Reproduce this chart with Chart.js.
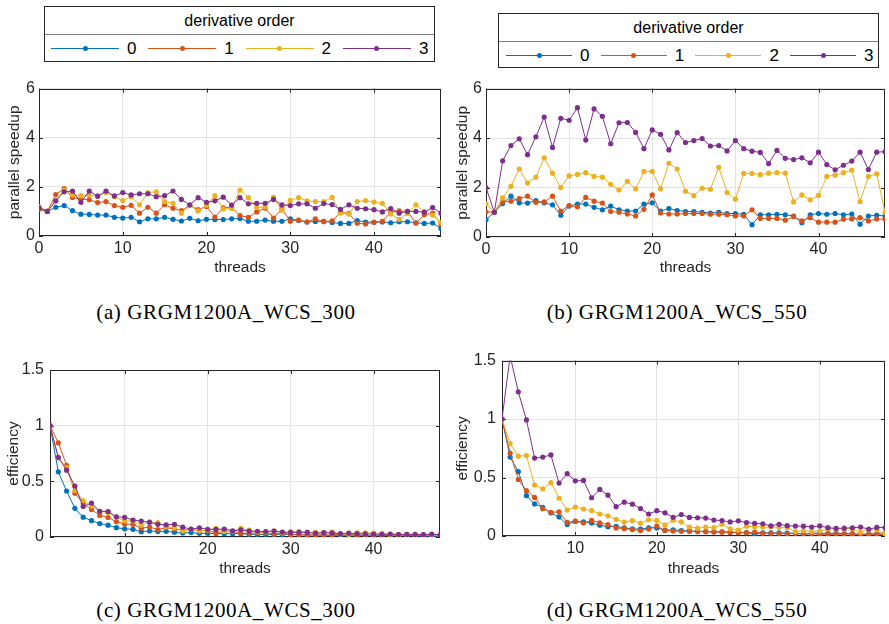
<!DOCTYPE html>
<html>
<head>
<meta charset="utf-8">
<script src="https://cdn.jsdelivr.net/npm/chart.js@4.4.1/dist/chart.umd.min.js"></script>
<style>
  body { margin: 0; background: #fff; width: 889px; height: 624px; position: relative; overflow: hidden; }
  canvas { position: absolute; }
  .legend { position: absolute; border: 1px solid #262626; box-sizing: border-box; background: #fff;
            font-family: "Liberation Sans", Arial, sans-serif; color: #000; }
  .legend .ttl { height: 27px; line-height: 27px; text-align: center; font-size: 16px; border-bottom: 1px solid #808080; }
  .legend .row { position: relative; height: 27px; }
  .legend .item { position: absolute; top: 0; height: 27px; }
  .legend .ln { position: absolute; top: 13px; height: 0; border-top: 1px solid; }
  .legend .dot { position: absolute; top: 11px; width: 5px; height: 5px; border-radius: 50%; }
  .legend .lab { position: absolute; top: 0; line-height: 27px; font-size: 17px; }
  .cap { position: absolute; font-family: "Liberation Serif", "Times New Roman", serif; font-size: 21px;
         letter-spacing: 0.6px; white-space: nowrap; transform: translate(-50%, -50%); color: #000; }
</style>
</head>
<body>

<div class="legend" id="legA" style="left:44px;top:6px;width:391px;height:56px"></div>
<div class="legend" id="legB" style="left:498px;top:13px;width:381px;height:55px"></div>

<canvas id="cA" width="450" height="205" style="left:0;top:75px"></canvas>
<canvas id="cB" width="444" height="205" style="left:445px;top:75px"></canvas>
<canvas id="cC" width="450" height="235" style="left:0;top:345px"></canvas>
<canvas id="cD" width="444" height="235" style="left:445px;top:345px"></canvas>

<div class="cap" style="left:226px;top:312px">(a) GRGM1200A_WCS_300</div>
<div class="cap" style="left:677px;top:312px">(b) GRGM1200A_WCS_550</div>
<div class="cap" style="left:226px;top:610px">(c) GRGM1200A_WCS_300</div>
<div class="cap" style="left:677px;top:610px">(d) GRGM1200A_WCS_550</div>

<script>
// thread counts
const threads = [0, 1, 2, 3, 4, 5, 6, 7, 8, 9, 10, 11, 12, 13, 14, 15, 16, 17, 18, 19, 20, 21, 22, 23, 24,
                 25, 26, 27, 28, 29, 30, 31, 32, 33, 34, 35, 36, 37, 38, 39, 40, 41, 42, 43, 44, 45, 46, 47, 48];
const threadsEff = threads.slice(1);

const orders = ['0', '1', '2', '3'];
const colors = ['#0072BD', '#D95319', '#EDB120', '#7E2F8E'];

const xTicksSpeedup = [0, 10, 20, 30, 40];
const xTicksEff = [10, 20, 30, 40];
const yTicksSpeedup = [0, 2, 4, 6];
const yTicksEff = [0, 0.5, 1, 1.5];

// parallel speedup, WCS_300 (threads 0..48)
const speed300_0 = [1.1, 1.0, 1.17, 1.24, 1.03, 0.89, 0.88, 0.85, 0.85, 0.76, 0.73, 0.76, 0.58, 0.7, 0.7, 0.76, 0.68,
  0.61, 0.72, 0.62, 0.68, 0.67, 0.67, 0.7, 0.71, 0.6, 0.6, 0.65, 0.6, 0.6, 0.7, 0.63, 0.57, 0.59, 0.6, 0.55, 0.51,
  0.51, 0.63, 0.57, 0.56, 0.57, 0.54, 0.58, 0.58, 0.54, 0.51, 0.53, 0.31];
const speed300_1 = [1.1, 1.0, 1.69, 1.93, 1.57, 1.5, 1.48, 1.36, 1.4, 1.24, 1.17, 1.25, 0.93, 1.17, 0.93, 1.27, 1.13,
  1.03, 1.25, 1.07, 1.2, 0.77, 1.15, 1.17, 0.83, 0.76, 0.98, 1.13, 0.73, 1.1, 0.6, 0.65, 0.57, 0.7, 0.58, 0.62, 0.96,
  0.92, 0.52, 0.49, 0.56, 0.6, 0.97, 1.02, 1.0, 0.53, 0.86, 0.93, 0.47];
const speed300_2 = [1.2, 1.0, 1.42, 1.87, 1.67, 1.64, 1.67, 1.62, 1.77, 1.6, 1.44, 1.6, 1.27, 1.77, 1.8, 1.4, 1.33,
  0.93, 1.25, 1.02, 1.25, 1.64, 1.1, 1.12, 1.87, 1.56, 1.16, 1.18, 1.57, 1.05, 1.45, 1.56, 1.43, 1.4, 1.4, 1.57, 0.93,
  0.89, 1.4, 1.44, 1.38, 1.33, 0.9, 0.68, 0.92, 1.27, 0.98, 0.85, 0.55];
const speed300_3 = [1.15, 1.0, 1.43, 1.8, 1.83, 1.37, 1.83, 1.62, 1.83, 1.63, 1.77, 1.67, 1.72, 1.72, 1.6, 1.64, 1.83,
  1.49, 1.27, 1.56, 1.37, 1.43, 1.58, 1.26, 1.56, 1.31, 1.33, 1.33, 1.49, 1.27, 1.24, 1.31, 1.31, 1.13, 1.32, 1.28,
  1.08, 1.27, 1.13, 1.11, 1.07, 0.98, 1.12, 0.93, 1.0, 1.0, 0.97, 1.16, 0.93];

// parallel speedup, WCS_550 (threads 0..48)
const speed550_0 = [0.7, 1.0, 1.35, 1.65, 1.38, 1.37, 1.47, 1.38, 1.3, 0.88, 1.25, 1.33, 1.33, 1.2, 1.1, 1.25, 1.1,
  1.05, 1.05, 1.33, 1.38, 1.05, 1.15, 1.07, 1.03, 1.03, 1.0, 0.97, 1.0, 0.95, 0.95, 0.92, 0.5, 0.9, 0.9, 0.92, 0.9,
  0.85, 0.58, 0.9, 0.95, 0.92, 0.95, 0.9, 0.93, 0.52, 0.85, 0.88, 0.85];
const speed550_1 = [1.02, 1.0, 1.42, 1.45, 1.55, 1.65, 1.4, 1.42, 1.65, 1.05, 1.27, 1.22, 1.6, 1.45, 1.37, 1.03, 1.0,
  0.93, 0.85, 1.12, 1.7, 0.97, 0.93, 0.93, 0.95, 0.95, 0.95, 0.92, 0.92, 0.9, 0.85, 0.85, 1.1, 0.75, 0.75, 0.75, 0.68,
  0.82, 0.65, 0.78, 0.6, 0.6, 0.6, 0.72, 0.73, 0.78, 0.65, 0.73, 0.72];
const speed550_2 = [1.35, 1.0, 1.58, 2.05, 2.75, 2.18, 2.42, 3.2, 2.58, 2.0, 2.47, 2.53, 2.6, 2.45, 2.42, 2.13, 1.9,
  2.25, 1.95, 2.65, 2.65, 1.95, 2.98, 2.75, 1.85, 1.67, 1.97, 1.93, 2.82, 1.8, 1.53, 2.57, 2.57, 2.52, 2.58, 2.6, 2.58,
  1.42, 1.7, 1.5, 1.68, 2.45, 2.5, 2.6, 2.7, 1.43, 2.45, 2.55, 1.0];
const speed550_3 = [2.0, 1.0, 3.08, 3.7, 3.97, 3.33, 4.05, 4.85, 3.62, 4.8, 4.72, 5.23, 3.92, 5.18, 4.88, 3.77, 4.62,
  4.63, 4.23, 3.57, 4.33, 4.15, 3.52, 4.22, 3.82, 3.9, 3.98, 3.68, 3.7, 3.48, 3.9, 3.57, 3.47, 3.42, 2.97, 3.5, 3.18,
  3.13, 3.2, 3.0, 3.43, 2.93, 2.72, 2.9, 3.07, 3.43, 2.73, 3.43, 3.45];

// efficiency, WCS_300 (threads 1..48)
const eff300_0 = [1.0, 0.585, 0.413, 0.258, 0.178, 0.147, 0.121, 0.106, 0.084, 0.073, 0.069, 0.048, 0.054, 0.05, 0.051,
  0.043, 0.036, 0.04, 0.033, 0.034, 0.032, 0.03, 0.03, 0.03, 0.024, 0.023, 0.024, 0.021, 0.021, 0.023, 0.02, 0.018,
  0.018, 0.018, 0.016, 0.014, 0.014, 0.017, 0.015, 0.014, 0.014, 0.013, 0.013, 0.013, 0.012, 0.011, 0.011, 0.006];
const eff300_1 = [1.0, 0.845, 0.643, 0.393, 0.3, 0.247, 0.194, 0.175, 0.138, 0.117, 0.114, 0.078, 0.09, 0.066, 0.085,
  0.071, 0.061, 0.069, 0.056, 0.06, 0.037, 0.052, 0.051, 0.035, 0.03, 0.038, 0.042, 0.026, 0.038, 0.02, 0.021, 0.018,
  0.021, 0.017, 0.018, 0.027, 0.025, 0.014, 0.013, 0.014, 0.015, 0.023, 0.024, 0.023, 0.012, 0.019, 0.02, 0.01];
const eff300_2 = [1.0, 0.71, 0.623, 0.418, 0.328, 0.278, 0.231, 0.221, 0.178, 0.144, 0.145, 0.106, 0.136, 0.129, 0.093,
  0.083, 0.055, 0.069, 0.054, 0.063, 0.078, 0.05, 0.049, 0.078, 0.062, 0.045, 0.044, 0.056, 0.036, 0.048, 0.05, 0.045,
  0.042, 0.041, 0.045, 0.026, 0.024, 0.037, 0.037, 0.035, 0.032, 0.021, 0.016, 0.021, 0.028, 0.021, 0.018, 0.011];
const eff300_3 = [1.0, 0.715, 0.6, 0.458, 0.274, 0.305, 0.231, 0.229, 0.181, 0.177, 0.152, 0.143, 0.132, 0.114, 0.109,
  0.114, 0.088, 0.071, 0.082, 0.069, 0.068, 0.072, 0.055, 0.065, 0.052, 0.051, 0.049, 0.053, 0.044, 0.041, 0.042, 0.041,
  0.034, 0.039, 0.037, 0.03, 0.034, 0.03, 0.028, 0.027, 0.024, 0.027, 0.022, 0.023, 0.022, 0.021, 0.025, 0.019];

// efficiency, WCS_550 (threads 1..48)
const eff550_0 = [1.0, 0.675, 0.55, 0.345, 0.274, 0.245, 0.197, 0.163, 0.098, 0.125, 0.121, 0.111, 0.092, 0.079, 0.083,
  0.069, 0.062, 0.058, 0.07, 0.069, 0.05, 0.052, 0.047, 0.043, 0.041, 0.038, 0.036, 0.036, 0.033, 0.032, 0.03, 0.016,
  0.027, 0.026, 0.026, 0.025, 0.023, 0.015, 0.023, 0.024, 0.022, 0.023, 0.021, 0.021, 0.012, 0.018, 0.019, 0.018];
const eff550_1 = [1.0, 0.71, 0.483, 0.388, 0.33, 0.233, 0.203, 0.206, 0.117, 0.127, 0.111, 0.133, 0.112, 0.098, 0.069,
  0.063, 0.055, 0.047, 0.059, 0.085, 0.046, 0.042, 0.04, 0.04, 0.038, 0.037, 0.034, 0.033, 0.031, 0.028, 0.027, 0.034,
  0.023, 0.022, 0.021, 0.019, 0.022, 0.017, 0.02, 0.015, 0.015, 0.014, 0.017, 0.017, 0.017, 0.014, 0.016, 0.015];
const eff550_2 = [1.0, 0.79, 0.683, 0.688, 0.436, 0.403, 0.457, 0.323, 0.222, 0.247, 0.23, 0.217, 0.188, 0.173, 0.142,
  0.119, 0.132, 0.108, 0.139, 0.133, 0.093, 0.135, 0.12, 0.077, 0.067, 0.076, 0.071, 0.101, 0.062, 0.051, 0.083, 0.08,
  0.076, 0.076, 0.074, 0.072, 0.038, 0.045, 0.038, 0.042, 0.06, 0.06, 0.06, 0.061, 0.032, 0.053, 0.054, 0.021];
const eff550_3 = [1.0, 1.54, 1.233, 0.993, 0.666, 0.675, 0.693, 0.453, 0.533, 0.472, 0.475, 0.327, 0.398, 0.349, 0.251,
  0.289, 0.272, 0.235, 0.188, 0.217, 0.198, 0.16, 0.183, 0.159, 0.156, 0.153, 0.136, 0.132, 0.12, 0.13, 0.115, 0.108,
  0.104, 0.087, 0.1, 0.088, 0.085, 0.084, 0.077, 0.086, 0.071, 0.065, 0.067, 0.07, 0.076, 0.059, 0.073, 0.072];

const FONT = '"Liberation Sans", Arial, sans-serif';
const AXIS = '#262626';

// legends
function buildLegend(el, startX, step, lineLen) {
  let html = '<div class="ttl">derivative order</div><div class="row">';
  orders.forEach((o, i) => {
    const x = startX + i * step;
    html += '<div class="item" style="left:' + x + 'px">' +
      '<div class="ln" style="left:0;width:' + lineLen + 'px;border-color:' + colors[i] + '"></div>' +
      '<div class="dot" style="left:' + (lineLen / 2 - 2.5) + 'px;background:' + colors[i] + '"></div>' +
      '<div class="lab" style="left:' + (lineLen + 8) + 'px">' + o + '</div></div>';
  });
  el.innerHTML = html + '</div>';
}
buildLegend(document.getElementById('legA'), 6, 97.3, 68);
buildLegend(document.getElementById('legB'), 7, 94.7, 66);

// axes box with inward tick marks
const boxPlugin = {
  id: 'axesBox',
  beforeDatasetsDraw(chart) {
    const { ctx, chartArea: a, scales } = chart;
    ctx.save();
    ctx.strokeStyle = AXIS;
    ctx.lineWidth = 1;
    ctx.beginPath();
    scales.x.ticks.forEach(t => {
      const px = Math.round(scales.x.getPixelForValue(t.value)) + 0.5;
      ctx.moveTo(px, a.bottom); ctx.lineTo(px, a.bottom - 4);
      ctx.moveTo(px, a.top); ctx.lineTo(px, a.top + 4);
    });
    scales.y.ticks.forEach(t => {
      const py = Math.round(scales.y.getPixelForValue(t.value)) + 0.5;
      ctx.moveTo(a.left, py); ctx.lineTo(a.left + 4, py);
      ctx.moveTo(a.right, py); ctx.lineTo(a.right - 4, py);
    });
    ctx.stroke();
    ctx.strokeRect(Math.round(a.left) + 0.5, Math.round(a.top) + 0.5,
                   Math.round(a.right - a.left) - 1, Math.round(a.bottom - a.top) - 1);
    ctx.restore();
  }
};

function makeChart(id, xs, series, cfg) {
  const datasets = series.map((ys, i) => ({
    label: orders[i],
    data: ys.map((y, k) => ({ x: xs[k], y: y })),
    borderColor: colors[i],
    backgroundColor: colors[i],
    borderWidth: 1,
    pointRadius: 2.6,
    pointBorderWidth: 0,
    pointBackgroundColor: colors[i],
    order: 3 - i
  }));
  return new Chart(document.getElementById(id), {
    type: 'line',
    data: { datasets },
    plugins: [boxPlugin],
    options: {
      responsive: false,
      animation: false,
      devicePixelRatio: 1,
      layout: { padding: { left: 0, right: cfg.padRight, top: cfg.padTop, bottom: 0 } },
      plugins: { legend: { display: false }, tooltip: { enabled: false } },
      scales: {
        x: {
          type: 'linear',
          min: cfg.xMin, max: 48,
          afterBuildTicks: s => { s.ticks = cfg.xTicks.map(v => ({ value: v })); },
          afterFit: s => { s.height = cfg.xH; },
          grid: { color: '#e3e3e3', drawTicks: false },
          border: { display: false },
          ticks: { padding: 3, color: AXIS, font: { family: FONT, size: 16 }, maxRotation: 0,
                   callback: v => String(v) },
          title: { display: true, text: 'threads', color: AXIS, font: { family: FONT, size: 15.5 },
                   padding: { top: 0, bottom: cfg.xTitlePad } }
        },
        y: {
          min: cfg.yMin, max: cfg.yMax,
          afterBuildTicks: s => { s.ticks = cfg.yTicks.map(v => ({ value: v })); },
          afterFit: s => { s.width = cfg.yW; },
          grid: { color: '#e3e3e3', drawTicks: false },
          border: { display: false },
          ticks: { padding: cfg.yTickPad, color: AXIS, font: { family: FONT, size: 16 },
                   callback: v => String(v) },
          title: { display: true, text: cfg.yTitle, color: AXIS, font: { family: FONT, size: 15.5 },
                   padding: { top: cfg.yTitlePad, bottom: 0 } }
        }
      }
    }
  });
}

makeChart('cA', threads, [speed300_0, speed300_1, speed300_2, speed300_3], {
  xMin: 0, xTicks: xTicksSpeedup, yMin: 0, yMax: 6, yTicks: yTicksSpeedup, yTitle: 'parallel speedup',
  padRight: 9, padTop: 8, yW: 39, xH: 44, yTickPad: 4, yTitlePad: 5.7, xTitlePad: 2.7
});
makeChart('cB', threads, [speed550_0, speed550_1, speed550_2, speed550_3], {
  xMin: 0, xTicks: xTicksSpeedup, yMin: 0, yMax: 6, yTicks: yTicksSpeedup, yTitle: 'parallel speedup',
  padRight: 2, padTop: 13, yW: 41, xH: 43, yTickPad: 4, yTitlePad: 8.7, xTitlePad: 2.7
});
makeChart('cC', threadsEff, [eff300_0, eff300_1, eff300_2, eff300_3], {
  xMin: 1, xTicks: xTicksEff, yMin: 0, yMax: 1.5, yTicks: yTicksEff, yTitle: 'efficiency',
  padRight: 10, padTop: 25, yW: 50, xH: 43, yTickPad: 6, yTitlePad: 4.7, xTitlePad: 1.7
});
makeChart('cD', threadsEff, [eff550_0, eff550_1, eff550_2, eff550_3], {
  xMin: 1, xTicks: xTicksEff, yMin: 0, yMax: 1.5, yTicks: yTicksEff, yTitle: 'efficiency',
  padRight: 2, padTop: 13, yW: 57, xH: 44, yTickPad: 6, yTitlePad: 8.7, xTitlePad: 1.7
});
</script>
</body>
</html>
